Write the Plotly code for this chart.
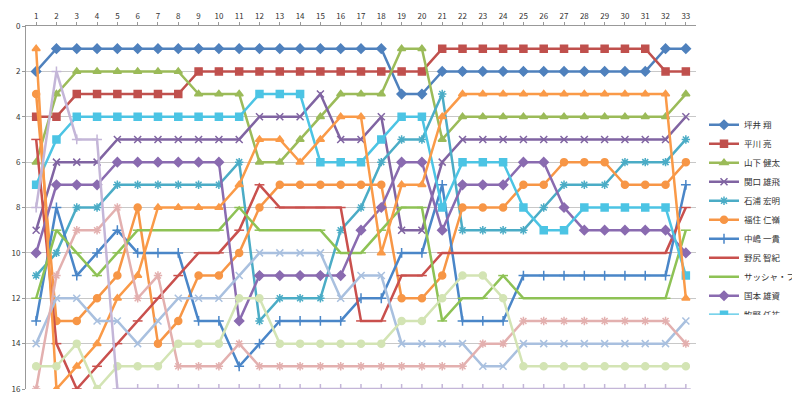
import plotly.graph_objects as go

rounds = list(range(1, 34))
names = ["坪井 翔", "平川 亮", "山下 健太", "関口 雄飛", "石浦 宏明", "福住 仁嶺", "中嶋 一貴", "野尻 智紀",
         "サッシャ・フェネストラズ", "国本 雄資", "牧野 任祐", "大湯 都史樹", "道上 龍",
         "セルジオ・セッテ・カマラ", "ニック・キャシディ", "小林 可夢偉"]

tsuboi   = [2,1,1,1,1,1,1,1,1,1,1,1,1,1,1,1,1,1,3,3,2,2,2,2,2,2,2,2,2,2,2,1,1]
hirakawa = [4,4,3,3,3,3,3,3,2,2,2,2,2,2,2,2,2,2,2,2,1,1,1,1,1,1,1,1,1,1,1,2,2]
yamashita= [6,3,2,2,2,2,2,2,3,3,3,6,6,5,4,3,3,3,1,1,5,4,4,4,4,4,4,4,4,4,4,4,3]
sekiguchi= [9,6,6,6,5,5,5,5,5,5,5,4,4,4,3,5,5,4,9,9,6,5,5,5,5,5,5,5,5,5,5,5,4]
ishiura  = [11,10,8,8,7,7,7,7,7,7,6,13,12,12,12,9,8,6,5,5,3,9,9,9,9,8,7,7,7,6,6,6,5]
fukuzumi = [3,13,13,12,11,8,14,13,11,11,10,8,7,7,7,7,7,7,12,12,11,8,8,8,7,7,6,6,6,7,7,7,6]
nakajima = [13,8,11,10,9,10,10,10,13,13,15,14,13,13,13,13,12,12,10,10,7,13,13,13,11,11,11,11,11,11,11,11,7]
nojiri   = [5,14,16,15,14,13,12,11,10,10,9,7,8,8,8,8,13,13,11,11,10,10,10,10,10,10,10,10,10,10,10,10,8]
sacha    = [12,9,10,11,10,9,9,9,9,9,8,9,9,9,9,10,10,9,8,8,13,12,12,11,12,12,12,12,12,12,12,12,9]
kunimoto = [10,7,7,7,6,6,6,6,6,6,13,11,11,11,11,11,9,8,6,6,9,7,7,7,6,6,8,9,9,9,9,9,10]
makino   = [7,5,4,4,4,4,4,4,4,4,4,3,3,3,6,6,6,5,4,4,8,6,6,6,8,9,9,8,8,8,8,8,11]
oyu      = [1,16,15,14,12,11,8,8,8,8,7,5,5,6,5,4,4,10,7,7,4,3,3,3,3,3,3,3,3,3,3,3,12]
michigami= [14,12,12,13,13,14,13,12,12,12,11,10,10,10,10,12,11,11,14,14,14,14,15,15,14,14,14,14,14,14,14,14,13]
sergio   = [16,11,9,9,8,12,11,15,15,15,14,15,15,15,15,15,15,15,15,15,15,15,14,14,13,13,13,13,13,13,13,13,14]
nick     = [15,15,14,16,15,15,15,14,14,14,12,12,14,14,14,14,14,14,13,13,12,11,11,12,15,15,15,15,15,15,15,15,15]
kobayashi= [8,2,5,5,16,16,16,16,16,16,16,16,16,16,16,16,16,16,16,16,16,16,16,16,16,16,16,16,16,16,16,16,16]

series = [tsuboi, hirakawa, yamashita, sekiguchi, ishiura, fukuzumi, nakajima, nojiri,
          sacha, kunimoto, makino, oyu, michigami, sergio, nick, kobayashi]
colors = ["#4F81BD", "#C0504D", "#9BBB59", "#8064A2", "#4BACC6", "#F79646",
          "#4A86C8", "#C9504D", "#8EC255", "#8A6BB0", "#4CC4E4", "#FA9A48",
          "#A9C0DF", "#E3B0AF", "#D3E4B4", "#C4B6D8"]
symbols = ["diamond", "square", "triangle-up", "x-thin-open", "asterisk-open", "circle",
           "cross-thin-open", "line-ew-open", "line-ew-open", "diamond", "square", "triangle-up",
           "x-thin-open", "asterisk-open", "circle", "cross-thin-open"]

fig = go.Figure()
for n, s, c, m in zip(names, series, colors, symbols):
    fig.add_trace(go.Scatter(x=rounds, y=s, name=n, mode="lines+markers",
                             line=dict(color=c, width=2.5),
                             marker=dict(symbol=m, size=7, color=c,
                                         line=dict(color=c, width=1.5))))

fig.update_layout(
    width=800, height=409, paper_bgcolor="white", plot_bgcolor="white",
    margin=dict(l=18, r=112, t=18, b=28, autoexpand=False),
    font=dict(family="Noto Sans CJK JP", size=8, color="#333"),
    legend=dict(xref="container", yref="container", x=0.87, xanchor="left",
                y=0.5, yanchor="middle",
                font=dict(size=8.5), tracegroupgap=0, itemwidth=30),
    showlegend=True,
)
fig.update_xaxes(side="top", range=[0.5, 33.5], tickmode="array", tickvals=rounds,
                 showgrid=False, showline=True, linecolor="#999", ticks="outside",
                 ticklen=3, tickcolor="#999", tickfont=dict(size=8), automargin=False)
fig.update_yaxes(range=[16, 0], tickvals=list(range(0, 17, 2)), showgrid=True,
                 gridcolor="#C8C8C8", zeroline=False, showline=True, linecolor="#999",
                 ticks="outside", ticklen=3, tickcolor="#999", tickfont=dict(size=8),
                 automargin=False)
fig.write_html("out.html")
